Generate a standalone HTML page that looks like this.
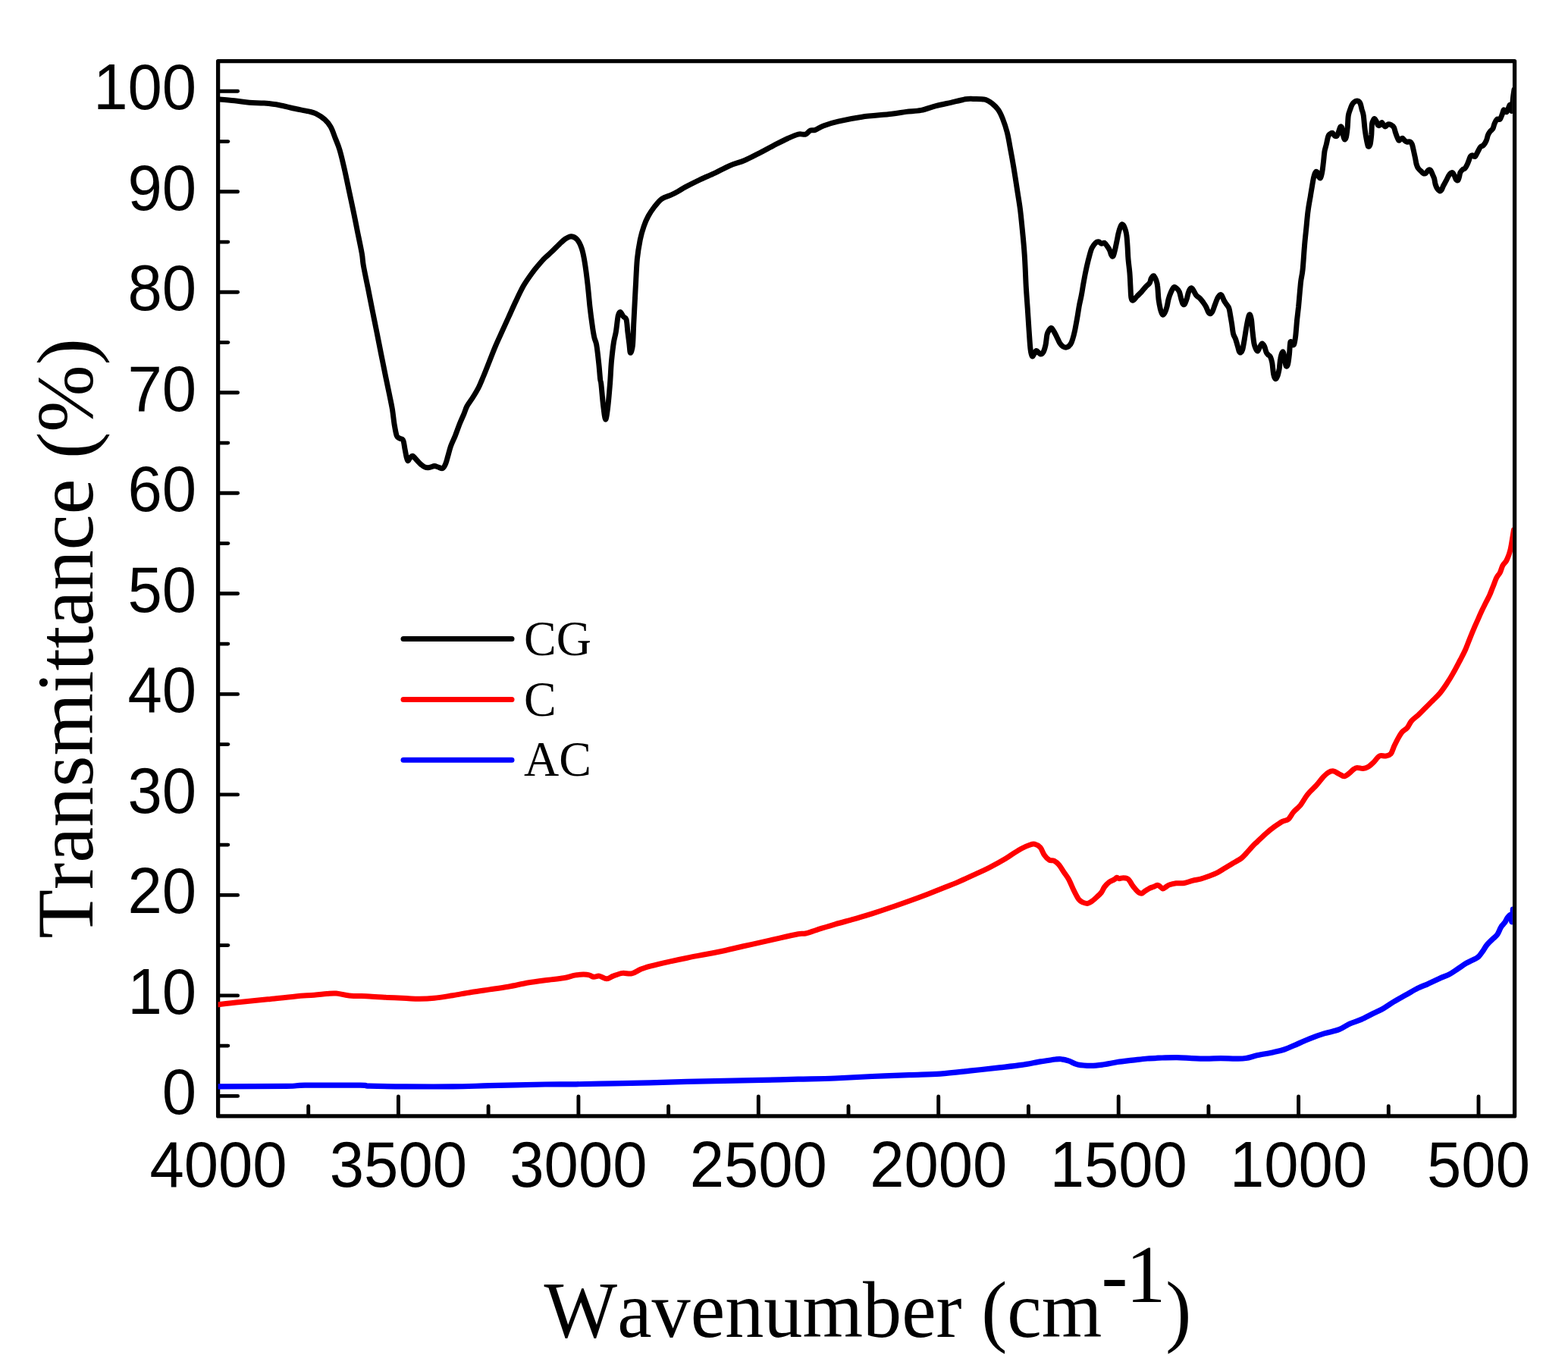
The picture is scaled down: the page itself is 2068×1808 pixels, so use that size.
<!DOCTYPE html>
<html lang="en">
<head>
<meta charset="utf-8">
<title>FTIR spectra: CG, C, AC</title>
<style>
html,body{margin:0;padding:0;background:#fff;}
body{width:2068px;height:1808px;overflow:hidden;}
svg{display:block;}
.tk{font-family:"Liberation Sans",Arial,Helvetica,sans-serif;fill:#000;font-kerning:none;}
.tt{font-family:"Liberation Serif","Times New Roman",Times,serif;fill:#000;font-kerning:none;}
</style>
</head>
<body>
<svg width="2068" height="1808" viewBox="0 0 2068 1808">
<rect x="0" y="0" width="2068" height="1808" fill="#ffffff"/>
<g stroke="#000" stroke-width="4.9" stroke-linecap="round" fill="none">
<line x1="287.6" y1="1445.4" x2="313.6" y2="1445.4"/>
<line x1="287.6" y1="1379.1" x2="300.8" y2="1379.1"/>
<line x1="287.6" y1="1312.9" x2="313.6" y2="1312.9"/>
<line x1="287.6" y1="1246.6" x2="300.8" y2="1246.6"/>
<line x1="287.6" y1="1180.4" x2="313.6" y2="1180.4"/>
<line x1="287.6" y1="1114.1" x2="300.8" y2="1114.1"/>
<line x1="287.6" y1="1047.9" x2="313.6" y2="1047.9"/>
<line x1="287.6" y1="981.6" x2="300.8" y2="981.6"/>
<line x1="287.6" y1="915.4" x2="313.6" y2="915.4"/>
<line x1="287.6" y1="849.1" x2="300.8" y2="849.1"/>
<line x1="287.6" y1="782.8" x2="313.6" y2="782.8"/>
<line x1="287.6" y1="716.6" x2="300.8" y2="716.6"/>
<line x1="287.6" y1="650.3" x2="313.6" y2="650.3"/>
<line x1="287.6" y1="584.1" x2="300.8" y2="584.1"/>
<line x1="287.6" y1="517.8" x2="313.6" y2="517.8"/>
<line x1="287.6" y1="451.6" x2="300.8" y2="451.6"/>
<line x1="287.6" y1="385.3" x2="313.6" y2="385.3"/>
<line x1="287.6" y1="319.1" x2="300.8" y2="319.1"/>
<line x1="287.6" y1="252.8" x2="313.6" y2="252.8"/>
<line x1="287.6" y1="186.6" x2="300.8" y2="186.6"/>
<line x1="287.6" y1="120.3" x2="313.6" y2="120.3"/>
<line x1="1950.0" y1="1471.9" x2="1950.0" y2="1445.9"/>
<line x1="1831.3" y1="1471.9" x2="1831.3" y2="1458.7"/>
<line x1="1712.6" y1="1471.9" x2="1712.6" y2="1445.9"/>
<line x1="1593.9" y1="1471.9" x2="1593.9" y2="1458.7"/>
<line x1="1475.2" y1="1471.9" x2="1475.2" y2="1445.9"/>
<line x1="1356.4" y1="1471.9" x2="1356.4" y2="1458.7"/>
<line x1="1237.7" y1="1471.9" x2="1237.7" y2="1445.9"/>
<line x1="1119.0" y1="1471.9" x2="1119.0" y2="1458.7"/>
<line x1="1000.3" y1="1471.9" x2="1000.3" y2="1445.9"/>
<line x1="881.6" y1="1471.9" x2="881.6" y2="1458.7"/>
<line x1="762.9" y1="1471.9" x2="762.9" y2="1445.9"/>
<line x1="644.1" y1="1471.9" x2="644.1" y2="1458.7"/>
<line x1="525.4" y1="1471.9" x2="525.4" y2="1445.9"/>
<line x1="406.7" y1="1471.9" x2="406.7" y2="1458.7"/>
</g>
<rect x="287.6" y="80.6" width="1710.0" height="1391.3" fill="none" stroke="#000" stroke-width="5.3" stroke-linejoin="round"/>
<defs><clipPath id="plotclip"><rect x="287.6" y="80.6" width="1707.3" height="1391.3"/></clipPath></defs>
<g fill="none" stroke-linecap="round" stroke-linejoin="round" clip-path="url(#plotclip)">
<path d="M287.3,1432.9 C302.4,1432.8 358.5,1432.7 377.6,1432.4 C396.7,1432.2 385.7,1431.4 402.0,1431.2 C418.2,1431.0 460.9,1431.1 475.1,1431.2 C489.3,1431.4 477.2,1431.9 487.3,1432.2 C497.5,1432.5 517.8,1432.8 536.1,1432.9 C554.4,1433.0 578.8,1433.1 597.1,1432.9 C615.4,1432.7 625.5,1432.2 645.9,1431.7 C666.2,1431.2 700.0,1430.3 719.0,1430.0 C738.0,1429.7 745.0,1430.0 760.0,1429.8 C775.0,1429.6 792.5,1429.1 808.8,1428.8 C825.0,1428.5 841.3,1428.2 857.6,1427.8 C873.8,1427.4 890.1,1426.7 906.3,1426.3 C922.6,1425.9 938.9,1425.7 955.1,1425.4 C971.4,1425.0 987.6,1424.8 1003.9,1424.4 C1020.2,1424.0 1036.4,1423.6 1052.7,1423.2 C1068.9,1422.8 1085.2,1422.6 1101.5,1422.0 C1117.7,1421.3 1134.0,1420.2 1150.2,1419.5 C1166.5,1418.8 1184.1,1418.1 1199.0,1417.6 C1214.0,1417.0 1226.7,1417.0 1240.0,1416.1 C1253.3,1415.2 1266.0,1413.6 1279.0,1412.2 C1292.0,1410.8 1306.7,1409.2 1318.0,1407.9 C1329.4,1406.6 1338.2,1405.7 1347.3,1404.4 C1356.4,1403.1 1365.2,1401.1 1372.7,1399.9 C1380.2,1398.7 1387.6,1397.5 1392.2,1397.0 C1396.7,1396.5 1397.1,1396.4 1400.0,1396.8 C1402.9,1397.1 1406.2,1397.9 1409.8,1399.1 C1413.3,1400.3 1416.6,1403.0 1421.5,1404.0 C1426.3,1405.0 1433.5,1405.4 1439.0,1405.4 C1444.6,1405.4 1448.8,1404.8 1454.6,1404.0 C1460.5,1403.2 1467.6,1401.5 1474.1,1400.5 C1480.7,1399.5 1487.2,1398.9 1493.7,1398.1 C1500.2,1397.4 1506.7,1396.5 1513.2,1396.0 C1519.7,1395.5 1526.2,1395.3 1532.7,1395.0 C1539.2,1394.8 1545.7,1394.5 1552.2,1394.6 C1558.7,1394.7 1565.2,1395.3 1571.7,1395.6 C1578.2,1395.9 1584.8,1396.2 1591.2,1396.2 C1597.6,1396.2 1603.6,1395.7 1610.0,1395.7 C1616.4,1395.7 1624.0,1396.1 1629.5,1396.1 C1635.0,1396.1 1638.3,1396.3 1643.2,1395.5 C1648.0,1394.8 1652.9,1392.9 1658.8,1391.6 C1664.6,1390.3 1672.4,1389.2 1678.3,1387.9 C1684.1,1386.6 1688.4,1385.9 1693.9,1384.0 C1699.4,1382.1 1705.9,1379.0 1711.5,1376.6 C1717.0,1374.2 1721.2,1372.0 1727.1,1369.8 C1732.9,1367.5 1740.1,1364.9 1746.6,1362.9 C1753.1,1360.9 1760.6,1359.8 1766.1,1357.7 C1771.6,1355.5 1774.9,1352.5 1779.8,1350.2 C1784.6,1348.0 1790.2,1346.7 1795.4,1344.4 C1800.6,1342.1 1806.1,1339.0 1811.0,1336.6 C1815.9,1334.1 1820.1,1332.4 1824.6,1329.8 C1829.2,1327.2 1833.4,1323.9 1838.3,1321.0 C1843.2,1318.0 1848.7,1315.1 1853.9,1312.2 C1859.1,1309.3 1864.6,1305.9 1869.5,1303.4 C1874.4,1301.0 1878.3,1299.7 1883.2,1297.6 C1888.0,1295.4 1894.1,1292.5 1898.8,1290.3 C1903.5,1288.2 1907.6,1286.9 1911.5,1284.9 C1915.4,1282.8 1918.5,1280.5 1922.2,1278.0 C1925.9,1275.6 1930.0,1272.5 1933.9,1270.2 C1937.8,1268.0 1942.8,1265.9 1945.6,1264.4 C1948.4,1262.9 1948.9,1262.7 1950.5,1261.1 C1952.1,1259.4 1953.6,1257.2 1955.4,1254.6 C1957.2,1252.1 1958.9,1248.6 1961.2,1245.9 C1963.5,1243.1 1966.7,1240.3 1969.0,1238.0 C1971.3,1235.8 1973.1,1234.8 1974.9,1232.2 C1976.7,1229.6 1978.1,1225.0 1979.8,1222.4 C1981.4,1219.8 1983.2,1218.7 1984.6,1216.6 C1986.1,1214.5 1987.2,1211.4 1988.5,1209.8 C1989.8,1208.1 1991.5,1205.9 1992.4,1206.8 C1993.3,1207.8 1993.5,1216.9 1994.0,1215.6 C1994.5,1214.3 1995.1,1201.8 1995.4,1199.0" stroke="#0000ff" stroke-width="7.2"/>
<path d="M287.3,1324.9 C292.2,1324.3 305.6,1322.6 316.6,1321.5 C327.6,1320.3 341.0,1319.1 353.2,1317.8 C365.4,1316.5 379.6,1314.8 389.8,1313.9 C399.9,1313.0 407.2,1312.8 414.1,1312.2 C421.1,1311.6 426.3,1310.9 431.2,1310.5 C436.1,1310.1 438.5,1309.6 443.4,1310.0 C448.3,1310.4 453.2,1312.3 460.5,1312.9 C467.8,1313.6 478.8,1313.5 487.3,1313.9 C495.9,1314.3 503.6,1314.9 511.7,1315.4 C519.8,1315.8 529.2,1316.3 536.1,1316.6 C543.0,1316.9 547.1,1317.4 553.2,1317.3 C559.3,1317.3 565.4,1317.1 572.7,1316.3 C580.0,1315.6 588.9,1314.0 597.1,1312.7 C605.2,1311.4 613.3,1309.8 621.5,1308.5 C629.6,1307.2 637.7,1306.1 645.9,1304.9 C654.0,1303.7 662.1,1302.6 670.2,1301.2 C678.4,1299.8 686.5,1297.8 694.6,1296.3 C702.8,1294.9 710.9,1293.8 719.0,1292.7 C727.2,1291.6 736.9,1290.9 743.4,1289.8 C749.9,1288.7 753.7,1286.9 758.0,1286.1 C762.4,1285.3 766.6,1285.2 769.8,1285.1 C772.9,1285.1 774.8,1285.3 777.1,1285.9 C779.3,1286.4 780.9,1288.1 783.2,1288.3 C785.4,1288.5 787.6,1286.7 790.5,1287.1 C793.3,1287.5 797.2,1290.7 800.2,1290.7 C803.3,1290.7 805.3,1288.3 808.8,1287.1 C812.2,1285.9 816.9,1283.9 821.0,1283.4 C825.0,1282.9 829.1,1284.8 833.2,1283.9 C837.2,1283.0 841.3,1279.7 845.4,1278.0 C849.4,1276.4 851.5,1275.8 857.6,1274.1 C863.7,1272.5 873.8,1270.1 882.0,1268.3 C890.1,1266.5 898.2,1264.8 906.3,1263.2 C914.5,1261.5 922.6,1260.1 930.7,1258.5 C938.9,1257.0 947.0,1255.4 955.1,1253.7 C963.3,1251.9 971.4,1249.9 979.5,1248.0 C987.6,1246.2 995.8,1244.5 1003.9,1242.7 C1012.0,1240.9 1020.2,1238.9 1028.3,1237.1 C1036.4,1235.2 1047.0,1232.7 1052.7,1231.7 C1058.4,1230.7 1058.4,1231.9 1062.4,1231.0 C1066.5,1230.1 1070.6,1228.4 1077.1,1226.3 C1083.6,1224.3 1093.3,1221.1 1101.5,1218.8 C1109.6,1216.4 1117.7,1214.5 1125.9,1212.2 C1134.0,1209.9 1142.1,1207.4 1150.2,1204.9 C1158.4,1202.3 1166.5,1199.6 1174.6,1196.8 C1182.8,1194.1 1190.9,1191.2 1199.0,1188.3 C1207.2,1185.4 1215.3,1182.4 1223.4,1179.3 C1231.5,1176.1 1241.5,1172.0 1247.8,1169.5 C1254.1,1167.0 1255.6,1166.6 1261.5,1164.1 C1267.3,1161.6 1275.8,1157.7 1282.9,1154.4 C1290.1,1151.1 1297.2,1148.0 1304.4,1144.4 C1311.5,1140.7 1320.5,1135.7 1325.9,1132.5 C1331.2,1129.4 1333.0,1127.7 1336.6,1125.5 C1340.2,1123.2 1343.7,1120.9 1347.3,1119.0 C1350.9,1117.2 1355.2,1115.3 1358.1,1114.3 C1360.9,1113.3 1362.2,1112.7 1364.5,1113.2 C1366.8,1113.8 1369.9,1115.1 1372.0,1117.5 C1374.1,1119.9 1375.4,1124.9 1377.4,1127.6 C1379.3,1130.4 1381.7,1132.8 1383.8,1134.1 C1386.0,1135.3 1388.1,1134.1 1390.2,1135.1 C1392.4,1136.2 1394.5,1138.0 1396.7,1140.5 C1398.8,1143.0 1401.0,1146.9 1403.1,1150.1 C1405.3,1153.4 1407.4,1155.9 1409.6,1159.8 C1411.7,1163.7 1413.9,1169.5 1416.0,1173.8 C1418.1,1178.1 1420.5,1182.9 1422.4,1185.6 C1424.4,1188.2 1425.8,1188.9 1427.8,1189.9 C1429.8,1190.8 1432.3,1191.5 1434.2,1191.4 C1436.2,1191.2 1437.6,1190.1 1439.6,1188.8 C1441.6,1187.5 1443.9,1185.4 1446.1,1183.4 C1448.2,1181.4 1450.7,1179.3 1452.5,1177.0 C1454.3,1174.7 1455.0,1171.8 1456.8,1169.5 C1458.6,1167.1 1461.1,1164.6 1463.2,1163.0 C1465.4,1161.4 1468.1,1160.8 1469.7,1159.8 C1471.3,1158.8 1471.8,1157.4 1472.9,1157.2 C1474.0,1157.1 1474.7,1158.7 1476.1,1158.7 C1477.5,1158.8 1479.7,1157.7 1481.5,1157.7 C1483.3,1157.7 1485.4,1158.0 1486.8,1158.7 C1488.3,1159.4 1489.0,1160.5 1490.1,1162.0 C1491.1,1163.4 1492.0,1165.5 1493.3,1167.3 C1494.5,1169.1 1496.1,1171.1 1497.6,1172.7 C1499.0,1174.3 1500.4,1176.1 1501.9,1177.0 C1503.3,1177.9 1504.7,1178.4 1506.2,1178.1 C1507.6,1177.7 1508.8,1175.9 1510.4,1174.8 C1512.1,1173.8 1514.0,1172.5 1515.8,1171.6 C1517.6,1170.7 1519.4,1170.2 1521.2,1169.5 C1523.0,1168.8 1525.1,1167.4 1526.5,1167.3 C1528.0,1167.2 1528.6,1168.2 1529.8,1169.0 C1530.9,1169.8 1532.4,1171.9 1533.6,1172.0 C1534.9,1172.2 1535.8,1170.8 1537.3,1169.9 C1538.8,1169.0 1540.3,1167.5 1542.6,1166.7 C1545.0,1165.8 1548.0,1165.1 1551.2,1164.7 C1554.4,1164.4 1558.4,1165.1 1562.0,1164.5 C1565.5,1164.0 1569.1,1162.2 1572.7,1161.3 C1576.3,1160.4 1579.8,1160.1 1583.4,1159.2 C1587.0,1158.2 1590.6,1156.8 1594.2,1155.5 C1597.7,1154.2 1601.3,1153.0 1604.9,1151.2 C1608.5,1149.4 1612.0,1146.9 1615.6,1144.8 C1619.2,1142.6 1622.8,1140.5 1626.3,1138.3 C1629.9,1136.2 1634.2,1134.1 1637.1,1131.9 C1639.9,1129.8 1641.0,1128.1 1643.5,1125.5 C1646.0,1122.8 1649.7,1118.4 1652.1,1115.8 C1654.5,1113.2 1655.2,1112.8 1658.1,1110.1 C1661.0,1107.3 1665.7,1102.6 1669.5,1099.3 C1673.3,1096.0 1677.3,1092.8 1680.9,1090.2 C1684.6,1087.5 1688.2,1084.9 1691.2,1083.3 C1694.3,1081.7 1696.8,1082.4 1699.2,1080.3 C1701.7,1078.2 1703.4,1073.8 1706.1,1070.7 C1708.8,1067.6 1712.2,1065.4 1715.3,1061.6 C1718.3,1057.7 1721.0,1052.1 1724.4,1047.8 C1727.8,1043.6 1732.4,1039.7 1735.9,1035.9 C1739.3,1032.1 1742.3,1027.8 1745.0,1024.9 C1747.7,1022.1 1749.6,1020.1 1751.9,1018.8 C1754.2,1017.4 1756.5,1016.7 1758.7,1016.9 C1761.0,1017.2 1763.2,1019.2 1765.6,1020.4 C1768.0,1021.5 1770.6,1023.9 1772.9,1023.8 C1775.2,1023.7 1777.3,1021.4 1779.3,1019.9 C1781.4,1018.4 1783.3,1015.9 1785.1,1014.6 C1786.8,1013.4 1787.5,1012.5 1789.6,1012.4 C1791.7,1012.2 1795.2,1013.7 1797.6,1013.5 C1800.1,1013.3 1802.2,1012.5 1804.5,1011.2 C1806.8,1009.9 1808.9,1007.9 1811.4,1005.5 C1813.9,1003.1 1816.7,998.4 1819.4,997.0 C1822.1,995.6 1824.9,997.5 1827.4,997.0 C1829.9,996.5 1832.3,996.3 1834.3,994.1 C1836.2,991.8 1837.3,987.0 1838.8,983.8 C1840.4,980.5 1841.7,977.7 1843.4,974.6 C1845.1,971.5 1847.0,967.9 1849.1,965.4 C1851.2,963.0 1853.9,962.2 1856.0,959.7 C1858.1,957.2 1859.2,953.4 1861.7,950.6 C1864.2,947.7 1867.8,945.4 1870.9,942.6 C1873.9,939.7 1877.0,936.5 1880.0,933.4 C1883.1,930.4 1886.1,927.3 1889.2,924.3 C1892.2,921.2 1895.3,918.7 1898.3,915.1 C1901.4,911.5 1904.4,907.1 1907.5,902.5 C1910.5,897.9 1913.6,893.0 1916.6,887.6 C1919.7,882.3 1923.1,875.6 1925.8,870.5 C1928.5,865.3 1930.4,861.9 1932.7,856.8 C1934.9,851.6 1937.4,844.7 1939.5,839.6 C1941.6,834.4 1943.5,829.9 1945.2,825.9 C1947.0,821.9 1948.3,819.0 1949.8,815.6 C1951.3,812.1 1952.7,808.9 1954.4,805.3 C1956.1,801.6 1958.4,797.3 1960.1,793.8 C1961.8,790.4 1963.2,788.1 1964.7,784.7 C1966.2,781.2 1967.7,777.0 1969.3,773.2 C1970.8,769.4 1972.3,764.8 1973.8,761.8 C1975.4,758.7 1977.1,757.6 1978.4,754.9 C1979.8,752.3 1980.5,748.2 1981.9,745.8 C1983.2,743.3 1985.1,742.3 1986.4,740.0 C1987.8,737.8 1988.9,734.7 1989.9,732.0 C1990.8,729.4 1991.4,727.5 1992.2,724.0 C1992.9,720.6 1993.8,715.4 1994.4,711.4 C1995.1,707.4 1995.9,702.1 1996.3,700.0 C1996.6,697.9 1996.5,698.9 1996.5,698.6" stroke="#ff0000" stroke-width="7.0"/>
<path d="M287.8,130.9 C291.4,131.2 302.5,132.1 309.3,132.8 C316.1,133.5 322.3,134.6 328.8,135.2 C335.3,135.7 341.8,135.6 348.4,136.1 C354.9,136.7 361.4,137.3 367.9,138.5 C374.4,139.6 380.9,141.6 387.4,143.0 C393.9,144.4 402.1,145.7 407.0,146.9 C411.8,148.0 413.1,148.0 416.7,149.8 C420.3,151.6 425.2,154.7 428.4,157.6 C431.7,160.5 434.0,163.3 436.2,167.4 C438.5,171.5 440.2,177.0 442.1,182.0 C444.1,187.1 446.0,191.1 448.0,197.7 C449.9,204.2 451.9,212.6 453.8,221.1 C455.8,229.6 457.7,239.3 459.7,248.4 C461.6,257.6 463.6,266.3 465.5,275.8 C467.5,285.2 469.5,295.3 471.4,305.1 C473.4,314.8 476.0,326.9 477.3,334.4 C478.6,341.9 478.0,342.5 479.3,350.0 C480.6,357.5 483.2,369.5 485.2,379.3 C487.1,389.1 489.1,398.8 491.0,408.6 C493.0,418.4 494.9,428.1 496.9,437.9 C498.8,447.7 500.8,457.4 502.7,467.2 C504.7,477.0 506.8,487.7 508.6,496.5 C510.4,505.3 512.0,512.8 513.5,519.9 C514.9,527.1 516.2,532.6 517.4,539.5 C518.5,546.3 519.3,555.1 520.3,560.9 C521.3,566.8 522.1,571.7 523.2,574.6 C524.4,577.5 525.7,577.1 527.1,578.1 C528.5,579.1 530.5,578.1 531.6,580.5 C532.8,582.8 533.3,588.6 534.0,592.2 C534.7,595.8 535.3,599.3 535.9,602.0 C536.6,604.6 537.1,607.5 537.9,607.8 C538.7,608.1 539.7,605.0 540.8,603.9 C541.9,602.8 542.9,600.9 544.3,601.4 C545.8,601.9 547.8,604.9 549.6,606.8 C551.5,608.7 553.7,611.2 555.5,612.7 C557.3,614.2 558.6,615.4 560.4,616.0 C562.1,616.7 564.1,616.8 566.2,616.6 C568.3,616.4 571.1,614.7 573.0,614.6 C575.0,614.6 576.1,615.5 577.9,616.0 C579.7,616.5 582.2,618.3 583.8,617.6 C585.4,616.9 586.6,614.3 587.7,611.7 C588.8,609.1 589.5,605.9 590.6,602.0 C591.8,598.0 592.9,592.8 594.5,588.3 C596.2,583.7 598.4,579.5 600.4,574.6 C602.3,569.7 604.3,563.9 606.2,559.0 C608.2,554.1 610.5,549.2 612.1,545.3 C613.7,541.4 614.1,539.1 616.0,535.5 C618.0,532.0 621.2,528.1 623.8,523.8 C626.4,519.6 629.4,514.7 631.6,510.2 C633.9,505.6 635.2,502.0 637.5,496.5 C639.8,491.0 642.7,483.5 645.3,477.0 C647.9,470.4 650.5,463.6 653.1,457.4 C655.7,451.2 658.0,446.4 660.9,439.8 C663.9,433.3 667.4,425.5 670.7,418.4 C674.0,411.2 677.2,403.7 680.5,396.9 C683.7,390.0 686.7,383.5 690.2,377.3 C693.8,371.2 698.7,364.3 702.0,359.8 C705.2,355.2 707.0,353.2 709.8,350.0 C712.5,346.8 715.3,343.5 718.4,340.4 C721.4,337.4 724.9,334.7 728.1,331.6 C731.4,328.5 735.0,324.6 737.9,321.9 C740.8,319.1 743.1,316.7 745.7,315.0 C748.3,313.3 750.9,311.6 753.5,311.7 C756.1,311.9 759.0,313.3 761.3,316.0 C763.6,318.7 765.6,322.9 767.2,327.7 C768.8,332.6 769.8,337.5 771.1,345.3 C772.4,353.1 773.9,364.8 775.0,374.6 C776.1,384.4 777.0,395.1 777.9,403.9 C778.9,412.7 779.9,420.5 780.9,427.3 C781.8,434.2 782.8,440.4 783.8,444.9 C784.8,449.5 785.7,449.2 786.7,454.7 C787.7,460.2 788.8,470.6 789.6,478.1 C790.5,485.7 791.1,495.3 791.6,500.0 C792.1,504.7 792.1,500.3 792.8,506.2 C793.5,512.2 794.7,527.7 795.7,535.5 C796.7,543.4 797.7,552.8 798.6,553.1 C799.6,553.5 800.6,545.3 801.6,537.5 C802.5,529.7 803.7,516.3 804.5,506.2 C805.3,496.2 805.6,486.1 806.4,477.0 C807.3,467.8 808.4,458.1 809.4,451.6 C810.4,445.1 811.3,443.8 812.3,437.9 C813.3,432.0 814.3,420.8 815.2,416.4 C816.2,412.0 817.0,411.4 818.2,411.5 C819.3,411.7 820.8,415.8 822.1,417.4 C823.4,419.0 825.0,417.9 826.0,421.3 C827.0,424.7 827.3,432.5 827.9,437.9 C828.6,443.3 829.3,449.0 829.9,453.5 C830.5,458.1 830.7,464.9 831.4,465.2 C832.2,465.6 833.7,461.7 834.4,455.5 C835.1,449.3 835.2,439.2 835.7,428.1 C836.3,417.1 837.2,398.0 837.7,389.1 C838.2,380.1 838.0,382.6 838.5,374.6 C838.9,366.7 839.5,351.2 840.4,341.4 C841.4,331.6 842.9,323.2 844.3,316.0 C845.8,308.9 847.4,303.6 849.2,298.4 C851.0,293.2 852.8,289.0 855.1,284.8 C857.4,280.5 860.0,276.8 862.9,273.0 C865.8,269.3 869.1,264.9 872.7,262.3 C876.2,259.7 880.8,259.0 884.4,257.4 C888.0,255.8 890.9,254.3 894.1,252.5 C897.4,250.7 899.0,249.3 903.9,246.7 C908.8,244.1 916.9,240.0 923.4,236.9 C929.9,233.8 936.5,231.2 943.0,228.1 C949.5,225.0 956.0,221.1 962.5,218.4 C969.0,215.6 975.5,214.3 982.0,211.5 C988.5,208.8 995.3,205.0 1001.6,201.8 C1007.8,198.6 1013.3,195.5 1019.5,192.3 C1025.8,189.1 1033.5,185.1 1039.1,182.5 C1044.6,180.0 1048.8,178.0 1052.7,177.1 C1056.6,176.2 1059.9,177.9 1062.5,177.1 C1065.1,176.3 1066.2,173.1 1068.4,172.2 C1070.5,171.2 1072.3,172.4 1075.2,171.4 C1078.1,170.4 1080.9,167.8 1085.9,165.9 C1091.0,164.0 1097.0,162.0 1105.5,160.1 C1113.9,158.1 1125.0,155.8 1136.7,154.2 C1148.4,152.6 1166.0,151.5 1175.8,150.3 C1185.5,149.2 1188.8,148.2 1195.3,147.4 C1201.8,146.6 1208.3,146.7 1214.8,145.4 C1221.4,144.1 1227.9,141.3 1234.4,139.6 C1240.9,137.9 1247.4,136.7 1253.9,135.3 C1260.4,133.8 1268.6,131.6 1273.4,130.8 C1278.3,130.0 1279.0,130.3 1283.2,130.4 C1287.4,130.5 1294.6,130.1 1298.8,131.2 C1303.1,132.2 1305.7,134.4 1308.6,136.6 C1311.5,138.9 1314.1,141.2 1316.4,144.5 C1318.7,147.7 1320.3,151.3 1322.3,156.2 C1324.2,161.1 1326.5,167.6 1328.1,173.8 C1329.8,179.9 1330.6,185.5 1332.0,193.3 C1333.5,201.1 1335.3,210.9 1336.9,220.6 C1338.5,230.4 1340.4,242.7 1341.8,251.9 C1343.2,261.0 1344.3,266.9 1345.4,275.4 C1346.5,283.9 1347.3,292.6 1348.3,302.7 C1349.3,312.8 1350.4,323.6 1351.2,335.9 C1352.1,348.3 1352.6,365.2 1353.2,377.0 C1353.9,388.7 1354.5,396.5 1355.2,406.2 C1355.8,416.0 1356.5,426.4 1357.1,435.5 C1357.8,444.7 1358.3,455.2 1359.1,460.9 C1359.8,466.6 1360.6,468.8 1361.4,469.7 C1362.2,470.7 1363.0,468.0 1363.9,466.8 C1364.9,465.6 1365.6,462.5 1366.9,462.5 C1368.2,462.5 1370.3,466.4 1371.8,466.8 C1373.2,467.2 1374.5,466.8 1375.7,464.8 C1376.9,462.9 1378.1,459.0 1379.0,455.1 C1379.9,451.2 1380.2,444.7 1380.9,441.4 C1381.7,438.2 1382.5,437.0 1383.5,435.5 C1384.5,434.1 1385.5,432.0 1386.8,432.6 C1388.1,433.3 1389.9,437.0 1391.3,439.5 C1392.7,441.9 1394.1,445.0 1395.2,447.3 C1396.3,449.5 1397.0,451.5 1398.1,453.1 C1399.3,454.8 1400.6,456.2 1402.0,457.0 C1403.5,457.8 1405.3,458.5 1406.9,458.0 C1408.5,457.5 1410.5,455.9 1411.8,454.1 C1413.1,452.3 1413.8,450.4 1414.7,447.3 C1415.7,444.2 1416.7,440.1 1417.7,435.5 C1418.6,431.0 1419.6,425.5 1420.6,419.9 C1421.6,414.4 1422.5,407.6 1423.5,402.3 C1424.5,397.1 1425.5,393.9 1426.4,388.7 C1427.4,383.5 1428.2,377.3 1429.4,371.1 C1430.5,364.9 1432.0,357.4 1433.3,351.6 C1434.6,345.7 1436.0,340.0 1437.2,335.9 C1438.3,331.9 1438.8,329.8 1440.1,327.1 C1441.4,324.5 1443.5,321.7 1445.0,320.3 C1446.5,318.9 1447.6,318.6 1448.9,318.8 C1450.2,318.9 1451.5,321.0 1452.8,321.3 C1454.1,321.5 1455.4,319.7 1456.7,320.3 C1458.0,321.0 1459.5,323.6 1460.6,325.2 C1461.8,326.8 1462.7,328.3 1463.6,330.1 C1464.4,331.9 1464.8,334.6 1465.5,335.9 C1466.3,337.2 1467.2,338.9 1468.0,337.9 C1468.9,336.9 1469.5,333.7 1470.4,330.1 C1471.3,326.5 1472.5,320.3 1473.3,316.4 C1474.1,312.5 1474.5,309.6 1475.3,306.6 C1476.0,303.7 1477.0,300.6 1477.8,298.8 C1478.6,297.0 1479.3,295.7 1480.2,295.9 C1481.0,296.1 1482.2,297.7 1483.1,299.8 C1484.0,301.9 1485.0,304.5 1485.6,308.6 C1486.3,312.7 1486.6,318.7 1487.0,324.2 C1487.4,329.8 1487.5,335.9 1488.0,341.8 C1488.5,347.7 1489.4,353.5 1489.9,359.4 C1490.4,365.2 1490.6,371.4 1490.9,377.0 C1491.2,382.5 1491.3,389.4 1491.9,392.6 C1492.5,395.8 1493.1,396.4 1494.4,396.1 C1495.7,395.8 1497.8,392.5 1499.7,390.6 C1501.5,388.7 1503.6,386.9 1505.5,384.8 C1507.5,382.6 1509.6,379.9 1511.4,377.9 C1513.2,376.0 1515.1,374.8 1516.3,373.0 C1517.4,371.3 1517.4,368.8 1518.2,367.2 C1519.1,365.6 1520.5,363.3 1521.6,363.7 C1522.6,364.0 1523.8,366.9 1524.7,369.1 C1525.5,371.4 1526.1,372.7 1526.6,377.0 C1527.2,381.2 1527.4,389.3 1528.0,394.5 C1528.7,399.7 1529.7,404.8 1530.5,408.2 C1531.4,411.6 1532.3,414.4 1533.3,415.0 C1534.3,415.7 1535.4,413.9 1536.4,412.1 C1537.4,410.3 1538.4,407.2 1539.1,404.3 C1539.9,401.4 1540.2,397.8 1541.1,394.5 C1542.0,391.3 1543.4,387.4 1544.6,384.8 C1545.8,382.2 1547.0,379.7 1548.1,378.9 C1549.3,378.1 1550.2,378.9 1551.4,379.9 C1552.6,380.9 1554.3,382.3 1555.4,384.8 C1556.4,387.2 1557.1,391.9 1557.9,394.5 C1558.6,397.1 1559.1,399.3 1559.8,400.4 C1560.6,401.5 1561.3,402.3 1562.2,401.4 C1563.1,400.4 1564.2,397.3 1565.1,394.5 C1566.0,391.8 1566.7,387.2 1567.7,384.8 C1568.6,382.3 1569.9,380.2 1571.0,379.9 C1572.0,379.6 1572.8,381.2 1573.9,382.8 C1575.0,384.4 1576.3,387.9 1577.8,389.6 C1579.3,391.4 1581.2,392.1 1582.7,393.6 C1584.2,395.0 1585.3,396.6 1586.6,398.4 C1587.9,400.2 1589.4,402.2 1590.5,404.3 C1591.6,406.4 1592.5,409.6 1593.4,411.1 C1594.4,412.7 1595.4,413.8 1596.4,413.7 C1597.3,413.5 1598.3,412.0 1599.3,410.2 C1600.3,408.3 1601.2,404.9 1602.2,402.3 C1603.2,399.7 1604.2,396.6 1605.2,394.5 C1606.1,392.4 1607.1,390.6 1608.1,389.6 C1609.1,388.7 1610.0,388.1 1611.0,389.1 C1612.0,390.0 1613.0,393.6 1613.9,395.5 C1614.9,397.4 1615.7,398.6 1616.9,400.4 C1618.0,402.2 1619.8,403.6 1620.8,406.2 C1621.8,408.9 1622.1,412.4 1622.7,416.0 C1623.4,419.6 1624.0,423.7 1624.7,427.7 C1625.3,431.8 1625.8,437.2 1626.6,440.4 C1627.5,443.7 1628.6,444.5 1629.6,447.3 C1630.5,450.0 1631.7,454.3 1632.5,457.0 C1633.3,459.8 1633.8,462.6 1634.5,463.9 C1635.1,465.2 1635.7,465.3 1636.4,464.8 C1637.1,464.4 1637.9,463.9 1638.8,460.9 C1639.6,458.0 1640.4,452.5 1641.3,447.3 C1642.2,442.1 1643.3,434.6 1644.2,429.7 C1645.1,424.8 1645.8,420.4 1646.6,418.0 C1647.3,415.5 1647.9,414.4 1648.5,415.0 C1649.2,415.7 1649.9,418.1 1650.5,421.9 C1651.1,425.6 1651.4,432.3 1652.0,437.5 C1652.6,442.7 1653.3,449.4 1654.0,453.1 C1654.7,456.9 1655.5,458.3 1656.3,460.0 C1657.1,461.6 1658.0,463.4 1658.9,462.9 C1659.8,462.4 1660.8,458.7 1661.8,457.0 C1662.8,455.4 1663.8,453.1 1664.7,453.1 C1665.7,453.1 1666.7,455.1 1667.7,457.0 C1668.6,459.0 1669.4,463.1 1670.2,464.8 C1671.0,466.6 1671.7,466.8 1672.5,467.8 C1673.4,468.8 1674.6,468.9 1675.5,470.7 C1676.3,472.5 1677.1,474.6 1677.8,478.5 C1678.5,482.4 1679.0,490.6 1679.8,494.1 C1680.5,497.7 1681.5,499.3 1682.3,499.6 C1683.2,499.9 1684.0,498.3 1684.8,496.1 C1685.7,493.9 1686.5,490.2 1687.2,486.3 C1687.8,482.4 1688.0,476.4 1688.8,472.7 C1689.5,468.9 1690.8,464.2 1691.7,463.9 C1692.6,463.5 1693.3,467.6 1694.0,470.7 C1694.7,473.8 1695.2,480.8 1696.0,482.4 C1696.7,484.0 1697.8,483.1 1698.5,480.5 C1699.3,477.9 1699.9,471.7 1700.5,466.8 C1701.0,461.9 1701.2,453.3 1701.8,451.2 C1702.5,449.1 1703.6,453.6 1704.4,454.1 C1705.2,454.6 1706.0,455.9 1706.7,454.1 C1707.4,452.3 1708.0,448.7 1708.7,443.4 C1709.3,438.0 1710.0,428.4 1710.6,421.9 C1711.3,415.4 1711.9,410.8 1712.6,404.3 C1713.2,397.8 1714.0,388.5 1714.5,382.8 C1715.1,377.1 1715.2,374.5 1715.8,370.0 C1716.4,365.5 1717.3,363.2 1718.1,355.6 C1718.9,348.0 1719.7,333.5 1720.5,324.4 C1721.2,315.3 1722.0,308.8 1722.8,300.9 C1723.6,293.1 1724.2,284.5 1725.2,277.5 C1726.1,270.5 1727.3,264.5 1728.3,258.8 C1729.2,253.0 1730.2,247.6 1730.9,243.1 C1731.7,238.7 1732.2,234.9 1733.0,232.2 C1733.7,229.5 1734.5,227.5 1735.3,226.7 C1736.1,225.9 1737.0,226.5 1737.7,227.5 C1738.3,228.5 1738.6,231.8 1739.2,233.0 C1739.9,234.1 1740.8,235.7 1741.6,234.5 C1742.3,233.4 1743.3,229.5 1743.9,225.9 C1744.6,222.4 1744.9,217.9 1745.5,213.4 C1746.0,209.0 1746.4,203.3 1747.0,199.4 C1747.7,195.5 1748.6,193.3 1749.4,190.0 C1750.2,186.7 1750.9,182.1 1751.7,179.8 C1752.5,177.6 1753.2,177.5 1754.1,176.7 C1755.0,175.9 1756.1,174.8 1757.2,175.2 C1758.2,175.5 1759.3,178.4 1760.3,179.1 C1761.4,179.7 1762.5,180.1 1763.4,179.1 C1764.3,178.0 1765.1,174.8 1765.8,172.8 C1766.5,170.9 1767.2,168.1 1767.8,167.3 C1768.5,166.6 1769.1,166.4 1769.7,168.1 C1770.3,169.8 1770.7,174.9 1771.2,177.5 C1771.8,180.1 1772.6,183.2 1773.3,183.8 C1774.0,184.3 1774.8,183.2 1775.5,180.6 C1776.1,178.0 1776.7,172.8 1777.2,168.1 C1777.7,163.4 1777.7,156.4 1778.3,152.5 C1778.9,148.6 1779.8,147.0 1780.6,144.7 C1781.4,142.3 1782.1,140.1 1783.0,138.4 C1783.9,136.7 1784.9,135.4 1786.1,134.5 C1787.3,133.6 1788.7,132.7 1790.0,133.0 C1791.3,133.2 1792.9,134.1 1793.9,136.1 C1794.9,138.0 1795.5,142.0 1796.2,144.7 C1797.0,147.4 1797.6,148.1 1798.3,152.5 C1798.9,156.9 1799.5,165.8 1800.2,171.2 C1800.9,176.7 1801.8,181.7 1802.5,185.3 C1803.2,189.0 1803.8,192.3 1804.5,193.1 C1805.3,193.9 1806.5,192.6 1807.2,190.0 C1807.9,187.4 1808.4,181.9 1808.8,177.5 C1809.1,173.1 1809.1,166.6 1809.5,163.4 C1809.9,160.3 1810.6,159.9 1811.1,158.8 C1811.6,157.6 1812.0,156.3 1812.7,156.4 C1813.3,156.5 1814.2,158.1 1815.0,159.5 C1815.8,161.0 1816.6,164.1 1817.3,165.0 C1818.1,165.9 1818.8,165.6 1819.7,165.0 C1820.5,164.4 1821.7,161.6 1822.5,161.6 C1823.3,161.6 1823.9,164.1 1824.7,165.0 C1825.5,165.9 1826.2,167.1 1827.2,166.9 C1828.2,166.7 1829.4,164.1 1830.6,163.8 C1831.8,163.4 1833.2,164.0 1834.5,164.7 C1835.8,165.4 1837.5,166.5 1838.4,168.1 C1839.4,169.7 1839.7,172.4 1840.3,174.4 C1841.0,176.3 1841.6,178.1 1842.3,179.8 C1843.1,181.6 1843.9,184.3 1844.7,185.0 C1845.5,185.7 1846.2,184.2 1847.0,183.8 C1847.9,183.3 1848.8,181.9 1849.7,182.2 C1850.6,182.4 1851.5,184.5 1852.5,185.3 C1853.5,186.1 1854.5,186.9 1855.6,187.2 C1856.8,187.4 1858.4,186.4 1859.5,186.9 C1860.6,187.3 1861.4,188.2 1862.2,190.0 C1863.0,191.8 1863.5,194.7 1864.2,197.8 C1864.9,200.9 1865.9,205.6 1866.6,208.8 C1867.2,211.9 1867.5,214.3 1868.1,216.6 C1868.8,218.8 1869.4,220.5 1870.5,222.0 C1871.5,223.6 1873.2,224.8 1874.4,225.9 C1875.5,227.1 1876.5,228.4 1877.5,228.8 C1878.5,229.1 1879.6,229.0 1880.6,228.3 C1881.7,227.6 1882.7,225.0 1883.8,224.4 C1884.8,223.8 1886.0,223.8 1886.9,224.7 C1887.8,225.6 1888.4,228.1 1889.2,229.8 C1890.0,231.6 1890.9,233.1 1891.6,235.3 C1892.2,237.5 1892.5,240.9 1893.1,243.1 C1893.8,245.3 1894.6,247.2 1895.5,248.6 C1896.4,250.0 1897.7,251.3 1898.6,251.7 C1899.5,252.1 1900.1,252.1 1900.9,250.9 C1901.8,249.8 1902.7,246.8 1903.8,244.7 C1904.8,242.6 1906.1,240.5 1907.2,238.4 C1908.3,236.4 1909.3,233.9 1910.3,232.2 C1911.4,230.5 1912.5,229.0 1913.4,228.3 C1914.3,227.6 1915.0,227.3 1915.8,227.8 C1916.6,228.3 1917.3,229.9 1918.1,231.4 C1918.9,232.9 1919.7,235.8 1920.5,236.9 C1921.2,237.9 1922.2,238.2 1922.8,237.7 C1923.5,237.1 1923.9,235.4 1924.4,233.8 C1924.9,232.1 1925.2,229.2 1925.9,227.5 C1926.7,225.8 1928.0,224.5 1929.1,223.6 C1930.1,222.7 1931.1,223.2 1932.2,222.0 C1933.2,220.9 1934.4,218.5 1935.3,216.6 C1936.2,214.6 1937.0,212.0 1937.7,210.3 C1938.3,208.6 1938.6,207.3 1939.2,206.4 C1939.9,205.5 1940.5,204.8 1941.6,204.8 C1942.6,204.8 1944.3,207.1 1945.5,206.4 C1946.6,205.8 1947.4,203.0 1948.6,200.9 C1949.8,198.9 1951.2,195.5 1952.5,193.9 C1953.8,192.3 1955.1,193.0 1956.4,191.6 C1957.7,190.1 1959.3,187.7 1960.3,185.3 C1961.4,183.0 1961.7,179.6 1962.7,177.5 C1963.6,175.4 1964.7,174.1 1965.8,172.8 C1966.8,171.5 1968.0,171.4 1968.9,169.7 C1969.8,168.0 1970.3,164.7 1971.2,162.7 C1972.2,160.6 1973.2,158.1 1974.4,157.2 C1975.5,156.3 1977.1,158.4 1978.3,157.2 C1979.5,156.0 1980.5,152.2 1981.4,150.2 C1982.3,148.1 1982.5,145.1 1983.4,144.7 C1984.3,144.3 1985.9,148.1 1986.9,147.8 C1987.8,147.6 1988.4,144.7 1989.2,143.1 C1990.0,141.6 1990.8,137.9 1991.6,138.4 C1992.3,139.0 1993.3,147.8 1993.9,146.2 C1994.6,144.7 1994.9,133.8 1995.5,129.1 C1996.0,124.4 1996.8,119.9 1997.0,118.1" stroke="#000000" stroke-width="7.0"/>
</g>
<g class="tk" font-size="82.5" text-anchor="end">
<text transform="translate(259.0,1469.2) scale(0.987,1.03)">0</text>
<text transform="translate(259.0,1336.7) scale(0.987,1.03)">10</text>
<text transform="translate(259.0,1204.2) scale(0.987,1.03)">20</text>
<text transform="translate(259.0,1071.7) scale(0.987,1.03)">30</text>
<text transform="translate(259.0,939.2) scale(0.987,1.03)">40</text>
<text transform="translate(259.0,806.6) scale(0.987,1.03)">50</text>
<text transform="translate(259.0,674.1) scale(0.987,1.03)">60</text>
<text transform="translate(259.0,541.6) scale(0.987,1.03)">70</text>
<text transform="translate(259.0,409.1) scale(0.987,1.03)">80</text>
<text transform="translate(259.0,276.6) scale(0.987,1.03)">90</text>
<text transform="translate(259.0,144.1) scale(0.987,1.03)">100</text>
</g>
<g class="tk" font-size="82.5" text-anchor="middle">
<text transform="translate(288.0,1565.3) scale(0.987,1.03)">4000</text>
<text transform="translate(525.4,1565.3) scale(0.987,1.03)">3500</text>
<text transform="translate(762.9,1565.3) scale(0.987,1.03)">3000</text>
<text transform="translate(1000.3,1565.3) scale(0.987,1.03)">2500</text>
<text transform="translate(1237.7,1565.3) scale(0.987,1.03)">2000</text>
<text transform="translate(1475.2,1565.3) scale(0.987,1.03)">1500</text>
<text transform="translate(1712.6,1565.3) scale(0.987,1.03)">1000</text>
<text transform="translate(1950.0,1565.3) scale(0.987,1.03)">500</text>
</g>
<text class="tt" font-size="105.5" transform="translate(717.6,1762.7) scale(0.97,1)"><tspan x="0" y="0">Wavenumber (cm</tspan><tspan x="757.6" dy="-45.4" font-size="108.0">-</tspan><tspan x="791.1" font-size="108.0">1</tspan><tspan x="845.1" dy="45.4">)</tspan></text>
<text class="tt" font-size="106.0" transform="translate(121.8,1237.8) rotate(-90)" x="0" y="0">Transmittance (%)</text>
<g fill="none" stroke-linecap="round" stroke-width="7">
<line x1="532" y1="842.4" x2="675" y2="842.4" stroke="#000000"/>
<line x1="532" y1="922.4" x2="675" y2="922.4" stroke="#ff0000"/>
<line x1="532" y1="1002.2" x2="675" y2="1002.2" stroke="#0000ff"/>
</g>
<g class="tt" font-size="66.0">
<text transform="translate(691,863.5) scale(0.97,1)">CG</text>
<text transform="translate(691,943.5) scale(0.97,1)">C</text>
<text transform="translate(691,1023.0) scale(0.97,1)">AC</text>
</g>
</svg>
</body>
</html>
